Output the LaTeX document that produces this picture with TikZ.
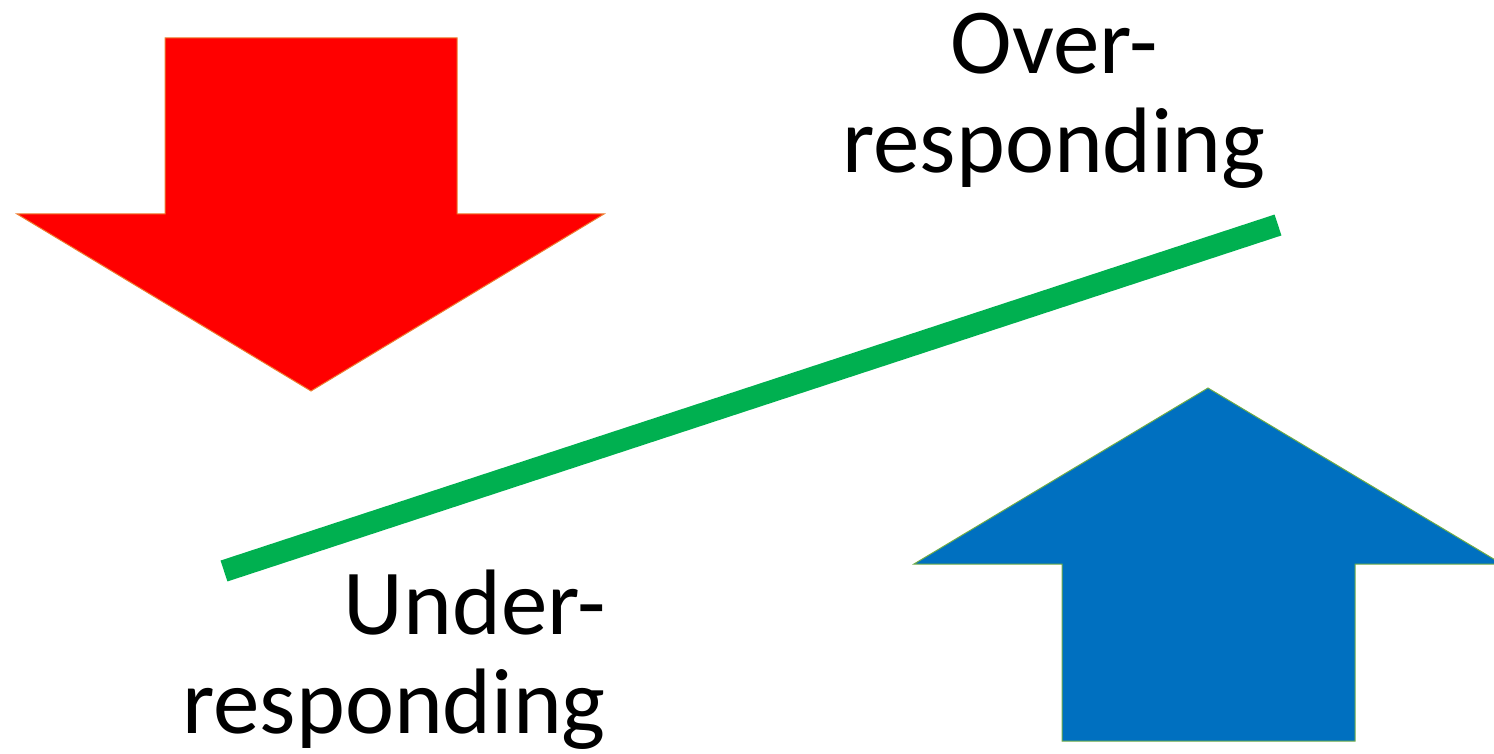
\documentclass[tikz,border=0pt]{standalone}
\usepackage{fontspec}
\setmainfont{Carlito}
\definecolor{arrowred}{HTML}{FF0000}
\definecolor{redline}{HTML}{ED7D31}
\definecolor{arrowblue}{HTML}{0070C0}
\definecolor{blueline}{HTML}{70AD47}
\definecolor{barGreen}{HTML}{00B050}
\tikzset{
  redarrow/.style={fill=arrowred, draw=redline, line width=1pt, line join=miter},
  bluearrow/.style={fill=arrowblue, draw=blueline, line width=1pt, line join=miter},
  bar/.style={draw=barGreen, line width=22pt, line cap=butt},
  label/.style={inner sep=0pt, font=\fontsize{93}{99}\selectfont, text=black}
}
\begin{document}
\begin{tikzpicture}[x=1pt, y=-1pt]
  \useasboundingbox (0,0) rectangle (1494,754);
  \clip (0,0) rectangle (1494,754);
  % red down arrow
  \draw[redarrow] (165,38) -- (457,38) -- (457,214) -- (604,214) -- (311,391) -- (17,214) -- (165,214) -- cycle;
  % blue up arrow
  \draw[bluearrow] (1208,388) -- (1502,564) -- (1355,564) -- (1355,741) -- (1062,741) -- (1062,564) -- (914,564) -- cycle;
  % green bar
  \coordinate (lowend) at (224,571);
  \coordinate (highend) at (1278,225);
  \draw[bar] (lowend) -- (highend);
  % labels
  \node[label, anchor=north, align=center] (over) at (1054,13) {Over-\\responding};
  \node[label, anchor=north east, align=right] (under) at (606,570) {Under-\\responding};
\end{tikzpicture}
\end{document}
